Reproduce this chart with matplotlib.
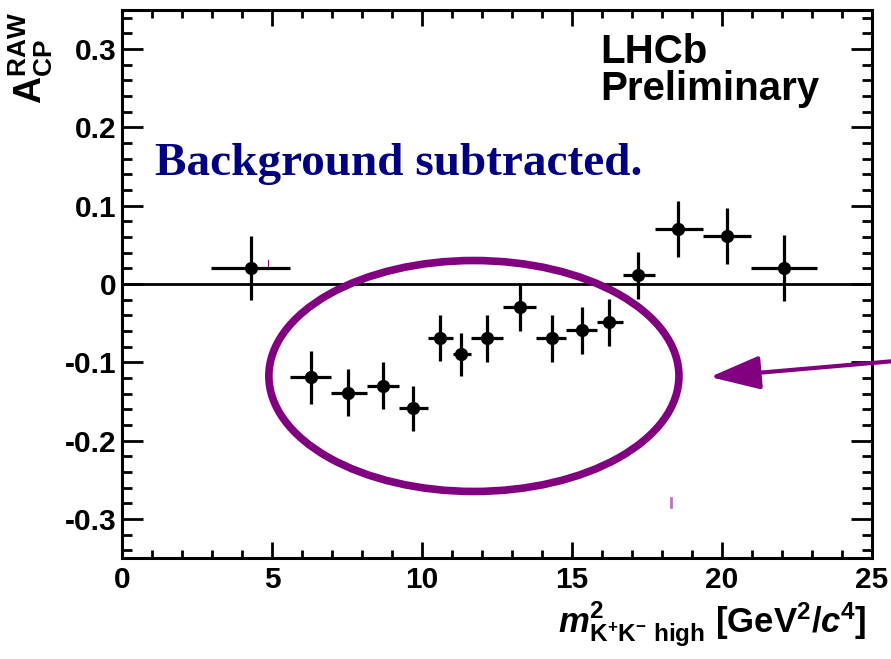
import matplotlib
matplotlib.use('Agg')
import matplotlib.pyplot as plt
from matplotlib.patches import Ellipse
from matplotlib.lines import Line2D
from matplotlib.ticker import MultipleLocator

# Fuentes tipo ROOT (Helvetica negrita)
plt.rcParams['font.family'] = 'Liberation Sans'
plt.rcParams['font.weight'] = 'bold'
plt.rcParams['axes.unicode_minus'] = False
plt.rcParams['mathtext.fontset'] = 'custom'
plt.rcParams['mathtext.rm'] = 'Liberation Sans:bold'
plt.rcParams['mathtext.bf'] = 'Liberation Sans:bold'
plt.rcParams['mathtext.it'] = 'Liberation Sans:italic:bold'
plt.rcParams['mathtext.bfit'] = 'Liberation Sans:italic:bold'

# Datos
bin_edges = [2.96, 5.60, 6.98, 8.15, 9.23, 10.21, 11.02, 11.63, 12.70,
             13.81, 14.81, 15.83, 16.69, 17.75, 19.36, 20.96, 23.15]
m2_mean = [4.29, 6.29, 7.54, 8.69, 9.71, 10.61, 11.31, 12.17,
           13.25, 14.32, 15.32, 16.24, 17.21, 18.54, 20.16, 22.07]
acp_raw = [0.020, -0.119, -0.139, -0.130, -0.159, -0.069, -0.090, -0.069,
           -0.030, -0.069, -0.059, -0.049, 0.011, 0.070, 0.061, 0.020]
acp_err = [0.041, 0.034, 0.030, 0.030, 0.029, 0.029, 0.028, 0.030,
           0.030, 0.030, 0.030, 0.030, 0.030, 0.036, 0.036, 0.042]

xerr_lo = [m - lo for m, lo in zip(m2_mean, bin_edges[:-1])]
xerr_hi = [hi - m for m, hi in zip(m2_mean, bin_edges[1:])]

purple = '#800080'

fig = plt.figure(figsize=(8.91, 6.59), dpi=100)
ax = fig.add_axes([122/891, 1 - 558/659, 750/891, 548/659])

ax.axhline(0, color='black', lw=2.0, zorder=2)
ax.errorbar(m2_mean, acp_raw, yerr=acp_err, xerr=[xerr_lo, xerr_hi],
            fmt='o', color='black', ms=8.5, elinewidth=2.3, capsize=0, zorder=3)

ax.add_patch(Ellipse((11.73, -0.1175), 13.67, 0.295, fill=False,
                     edgecolor=purple, lw=5.5, zorder=4))

ax.set_xlim(0, 25)
ax.set_ylim(-0.35, 0.35)
ax.xaxis.set_major_locator(MultipleLocator(5))
ax.xaxis.set_minor_locator(MultipleLocator(1))
ax.yaxis.set_major_locator(MultipleLocator(0.1))
ax.yaxis.set_minor_locator(MultipleLocator(0.02))
ax.xaxis.set_major_formatter(matplotlib.ticker.FuncFormatter(lambda v, p: f'{v:g}'))
ax.yaxis.set_major_formatter(matplotlib.ticker.FuncFormatter(lambda v, p: '0' if abs(v) < 1e-9 else f'{v:.1f}'))

for s in ax.spines.values():
    s.set_linewidth(2.2)
ax.tick_params(axis='both', which='both', direction='in', top=True, right=True,
               width=2.0, labelsize=21.5)
ax.tick_params(axis='x', which='major', length=11.5, pad=6)
ax.tick_params(axis='x', which='minor', length=5.8)
ax.tick_params(axis='y', which='major', length=15, pad=4)
ax.tick_params(axis='y', which='minor', length=7.2)

# Etiquetas de ejes
fig.text(31/891, 1 - 12/659, r'$\mathbf{A}_{\mathbf{CP}}^{\mathbf{RAW}}$',
         rotation=90, ha='center', va='top', fontsize=27)
fig.text(867/891, 1 - 633/659,
         r'$\mathbfit{m}^{\mathbf{2}}_{\mathbf{K^{+}K^{-}\ high}}$ [GeV$^{\mathbf{2}}$/$\mathbfit{c}^{\mathbf{4}}$]',
         ha='right', va='baseline', fontsize=25)

# Textos
fig.text(600/891, 1 - 63/659, 'LHCb', ha='left', va='baseline', fontsize=29)
fig.text(600/891, 1 - 100/659, 'Preliminary', ha='left', va='baseline', fontsize=29)
fig.text(155/891, 1 - 175/659, 'Background subtracted.', ha='left', va='baseline',
         fontsize=34, family='Liberation Serif', weight='bold', color='#000080')

# Flecha morada
ax.annotate('', xy=(710, 659 - 377), xytext=(895, 659 - 361),
            xycoords='figure pixels', textcoords='figure pixels',
            annotation_clip=False,
            arrowprops=dict(arrowstyle='-|>,head_length=31,head_width=10.4',
                            mutation_scale=1, color=purple, lw=3,
                            shrinkA=0, shrinkB=0))

# Pequenas marcas moradas
fig.add_artist(Line2D([268/891, 268/891], [1 - 260/659, 1 - 266/659],
                      transform=fig.transFigure, color=purple, lw=0.8))
fig.add_artist(Line2D([671/891, 671/891], [1 - 498/659, 1 - 507/659],
                      transform=fig.transFigure, color='#c070c8', lw=2))

fig.savefig('out.png', dpi=100)
